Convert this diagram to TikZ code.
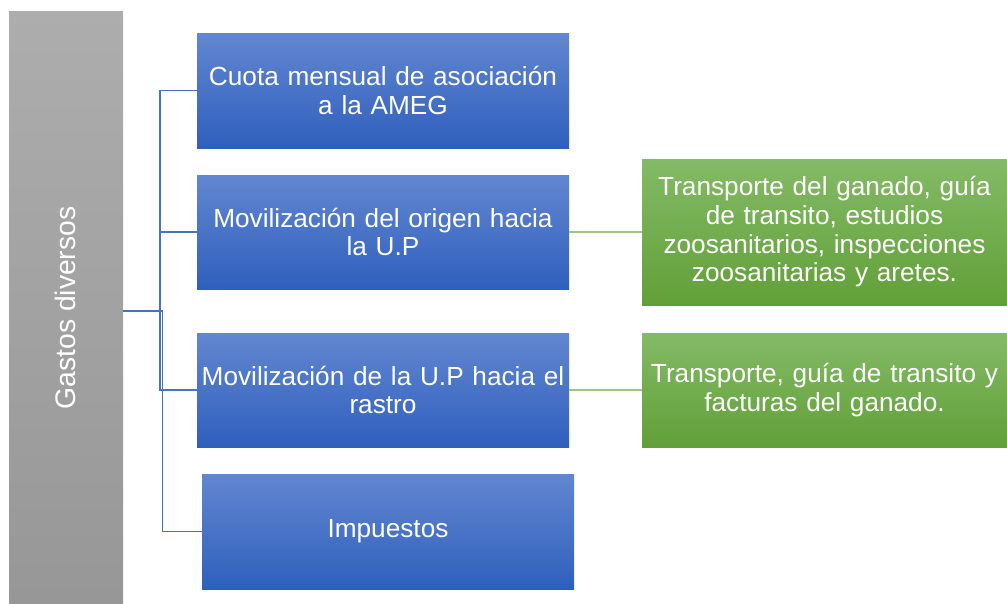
\documentclass[tikz,border=0pt]{standalone}
\usepackage{fontspec}
\setmainfont{Liberation Sans}
\definecolor{bluetop}{HTML}{6287D0}
\definecolor{bluebot}{HTML}{2F5FBD}
\definecolor{greentop}{HTML}{84BA66}
\definecolor{greenbot}{HTML}{61A038}
\definecolor{graytop}{HTML}{ADADAD}
\definecolor{graybot}{HTML}{979797}
\definecolor{bluelink}{HTML}{4472C4}
\definecolor{greenlink}{HTML}{9CC77F}
\begin{document}
\begin{tikzpicture}[x=1pt,y=-1pt,
  boxtext/.style={text=white,align=center,font=\fontsize{26.2}{28.7}\selectfont,inner sep=0pt},
  bluebox/.style={boxtext,rectangle,top color=bluetop,bottom color=bluebot,draw=none,
    minimum width=372pt,minimum height=115pt,text width=368pt},
  greenbox/.style={boxtext,rectangle,top color=greentop,bottom color=greenbot,draw=none,
    minimum width=365pt,text width=362pt},
  graybox/.style={rectangle,top color=graytop,bottom color=graybot,draw=none,
    minimum width=114pt,minimum height=592pt,inner sep=0pt},
  bluelinkstyle/.style={draw=bluelink,line width=1.1pt},
  greenlinkstyle/.style={draw=greenlink,line width=1.4pt}]
\useasboundingbox (0,0) rectangle (1007,603);
\fill[white] (0,0) rectangle (1007,603);

\node[graybox] (gray) at (66,307) {};
\node[boxtext,rotate=90,font=\fontsize{28.3}{31}\selectfont] (graytext) at (65,308) {Gastos diversos};

\node[bluebox] (b1) at (383,90.5) {Cuota mensual de asociación\\a la AMEG};
\node[bluebox,minimum height=114pt] (b2) at (383,232) {Movilización del origen hacia\\la U.P};
\node[bluebox,minimum height=114pt] (b3) at (383,390) {Movilización de la U.P hacia el\\rastro};
\node[bluebox] (b4) at (388,531.5) {Impuestos};

\node[greenbox,minimum height=146pt] (g1) at (824.5,232) {Transporte del ganado, guía\\de transito, estudios\\zoosanitarios, inspecciones\\zoosanitarias y aretes.};
\node[greenbox,minimum height=114pt] (g2) at (824.5,390) {Transporte, guía de transito y\\facturas del ganado.};

\coordinate (gout) at (123,311);
\coordinate (trunk) at (160,311);
\coordinate (trunkb) at (162.5,311);

\draw[bluelinkstyle] (gout) -- (trunk) |- (b1.west);
\draw[bluelinkstyle] (gout) -- (trunk) |- (b2.west);
\draw[bluelinkstyle] (gout) -- (trunk) |- (b3.west);
\draw[bluelinkstyle] (gout) -- (trunkb) |- (b4.west);

\draw[greenlinkstyle] (b2.east) -- (g1.west);
\draw[greenlinkstyle] (b3.east) -- (g2.west);
\end{tikzpicture}
\end{document}
